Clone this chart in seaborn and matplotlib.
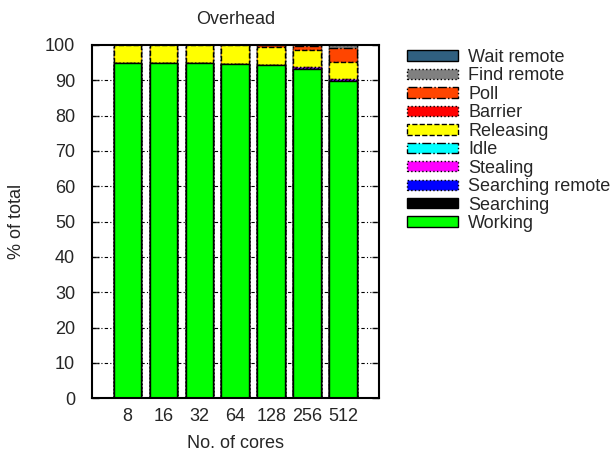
import numpy as np
import pandas as pd
import seaborn as sns
import matplotlib
matplotlib.use('Agg')
import matplotlib.pyplot as plt
from matplotlib.patches import Patch

CORES = ['8', '16', '32', '64', '128', '256', '512']
# stacked from bottom to top
LAYERS = ['Working', 'Searching', 'Searching remote', 'Stealing', 'Idle',
          'Releasing', 'Barrier', 'Poll', 'Find remote', 'Wait remote']
WORKING = [94.8, 94.9, 94.9, 94.6, 94.3, 93.3, 89.8]
SEARCHING = [0.0, 0.0, 0.0, 0.0, 0.0, 0.0, 0.0]
SEARCH_REM = [0.0, 0.0, 0.0, 0.05, 0.05, 0.3, 0.3]
STEALING = [0.0, 0.0, 0.0, 0.0, 0.0, 0.05, 0.25]
IDLE = [0.0, 0.0, 0.0, 0.0, 0.0, 0.0, 0.0]
RELEASING = [5.2, 5.1, 5.1, 5.25, 4.95, 5.0, 4.7]
BARRIER = [0.0, 0.0, 0.0, 0.0, 0.0, 0.0, 0.0]
POLL = [0.0, 0.0, 0.0, 0.1, 0.65, 1.1, 4.15]
FIND_REM = [0.0, 0.0, 0.0, 0.0, 0.05, 0.25, 0.8]
WAIT_REM = [0.0, 0.0, 0.0, 0.0, 0.0, 0.0, 0.0]

CLRS = ['#00ff00', '#000000', '#0000ff', '#ff00ff', '#00ffff',
        '#ffff00', '#ff0000', '#ff4500', '#808080', '#306080']
LSTY = ['-', '-', ':', ':', '-.', '--', ':', '-.', ':', '-']

df = pd.DataFrame(
    [WORKING, SEARCHING, SEARCH_REM, STEALING, IDLE,
     RELEASING, BARRIER, POLL, FIND_REM, WAIT_REM],
    index=LAYERS, columns=CORES
).T
cum = df.cumsum(axis=1)

sns.set_style('white')
plt.rcParams['font.family'] = ['Liberation Sans', 'DejaVu Sans']
plt.rcParams['font.size'] = 13

fig = plt.figure(figsize=(6.16, 4.54), dpi=100)
ax = fig.add_axes([0.149, 0.123, 0.466, 0.778])

# draw cumulative heights from top layer down so each covers the one below
for i in reversed(range(len(LAYERS))):
    sns.barplot(x=CORES, y=cum[LAYERS[i]].values, color=CLRS[i], saturation=1,
                width=0.77, edgecolor='black', linewidth=1.0,
                linestyle=LSTY[i], ax=ax, zorder=3)

ax.set_xlim(-1, 7)
ax.set_ylim(0, 100)
ax.set_yticks(np.arange(0, 101, 10))
for y in range(10, 100, 10):
    ax.axhline(y, color='black', lw=0.8, ls=(0, (3, 2, 1, 2, 1, 2)), zorder=1)
ax.tick_params(axis='y', direction='in', length=5, width=1, right=True,
               left=True, pad=12, labelsize=13)
ax.tick_params(axis='x', length=0, pad=7, labelsize=13)
for s in ax.spines.values():
    s.set_visible(True)
    s.set_color('black')
    s.set_linewidth(1.5)
    s.set_zorder(5)
ax.set_title('Overhead', fontsize=13, pad=15)
ax.set_xlabel('No. of cores', fontsize=13, labelpad=7)
ax.set_ylabel('% of total', fontsize=13, labelpad=14)

handles = [Patch(facecolor=CLRS[i], edgecolor='black', linewidth=1.0,
                 linestyle=LSTY[i], label=LAYERS[i])
           for i in reversed(range(len(LAYERS)))]
fig.legend(handles=handles, loc='upper left',
           bbox_to_anchor=(407 / 616, 1 - 49 / 454), frameon=False,
           borderpad=0, borderaxespad=0, handlelength=2.8, handleheight=0.5,
           handletextpad=0.6, labelspacing=0.08, fontsize=13)

fig.savefig('out.png', dpi=100)
